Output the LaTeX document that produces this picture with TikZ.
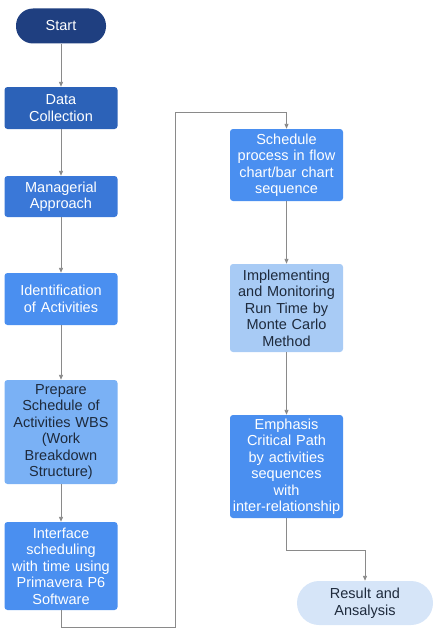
\documentclass[tikz,border=0pt]{standalone}
\usepackage{fontspec}
\setmainfont{Liberation Sans}
\usetikzlibrary{arrows.meta}
\definecolor{cStart}{HTML}{1F3F80}
\definecolor{cData}{HTML}{2C62B8}
\definecolor{cMan}{HTML}{3A78D8}
\definecolor{cBright}{HTML}{4A8FF0}
\definecolor{cPrep}{HTML}{7AB1F5}
\definecolor{cImpl}{HTML}{A8CBF5}
\definecolor{cRes}{HTML}{D6E5F8}
\definecolor{cDark}{HTML}{1E2A3C}
\definecolor{cLine}{HTML}{8A8A8A}
\begin{document}
\begin{tikzpicture}[x=1pt,y=-1pt,
  box/.style={rectangle, rounded corners=3pt, draw=none, align=center,
    text width=110pt, inner sep=1pt, font=\fontsize{14.5}{16.5}\selectfont},
  lightbox/.style={box, text=cDark},
  darkbox/.style={box, text=white},
  pill/.style={rounded rectangle, draw=none, align=center},
  arr/.style={draw=cLine, line width=0.9pt, -{Triangle[length=5pt,width=4pt]}},
  ln/.style={draw=cLine, line width=0.9pt}]
\useasboundingbox (0,0) rectangle (435,634);

\node[darkbox, fill=cStart, rounded corners=17pt, minimum width=90pt, text width=80pt, minimum height=35pt] (start) at (61,26) {Start};
\node[darkbox, fill=cData, minimum width=113pt, minimum height=42pt] (data) at (61,108) {Data\\Collection};
\node[darkbox, fill=cMan, minimum width=113pt, minimum height=41pt] (man) at (61,196.5) {Managerial\\Approach};
\node[darkbox, fill=cBright, minimum width=113pt, minimum height=52pt] (ident) at (61,299) {Identification\\of Activities};
\node[lightbox, fill=cPrep, minimum width=113pt, minimum height=104pt] (prep) at (61,432) {Prepare\\Schedule of\\Activities WBS\\(Work\\Breakdown\\Structure)};
\node[darkbox, fill=cBright, minimum width=113pt, minimum height=88pt] (inter) at (61,566) {Interface\\scheduling\\with time using\\Primavera P6\\Software};

\node[darkbox, fill=cBright, minimum width=113pt, minimum height=72pt] (sched) at (286.5,165) {Schedule\\process in flow\\chart/bar chart\\sequence};
\node[lightbox, fill=cImpl, minimum width=113pt, minimum height=88pt] (impl) at (286.5,308) {Implementing\\and Monitoring\\Run Time by\\Monte Carlo\\Method};
\node[darkbox, fill=cBright, minimum width=113pt, minimum height=103pt] (emph) at (286.5,466.5) {Emphasis\\Critical Path\\by activities\\sequences\\with\\inter-relationship};
\node[lightbox, fill=cRes, rounded corners=22pt, minimum width=136pt, text width=120pt, minimum height=44pt] (res) at (365,603) {Result and\\Ansalysis};

\coordinate (loopB) at (175,627);
\coordinate (loopT) at (175,112);
\coordinate (join) at (365,550);

\draw[arr] (start) -- (data);
\draw[arr] (data) -- (man);
\draw[arr] (man) -- (ident);
\draw[arr] (ident) -- (prep);
\draw[arr] (prep) -- (inter);
\draw[arr] (inter.south) |- (loopB) -- (loopT) -| (sched.north);
\draw[arr] (sched) -- (impl);
\draw[arr] (impl) -- (emph);
\draw[arr] (emph.south) |- (join) -- (res.north);
\end{tikzpicture}
\end{document}
